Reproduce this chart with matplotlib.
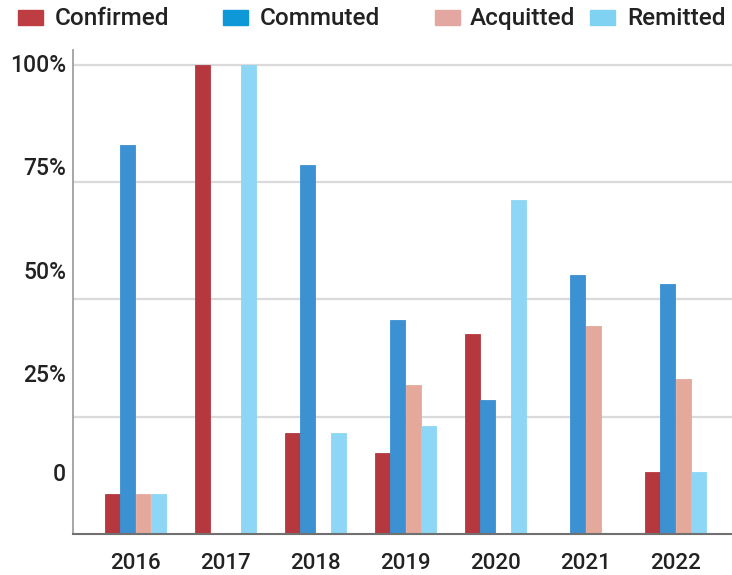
import matplotlib
matplotlib.use("Agg")
import matplotlib.pyplot as plt
from matplotlib.patches import Rectangle
import numpy as np

plt.rcParams['font.family'] = ['Roboto', 'DejaVu Sans']

years = ['2016', '2017', '2018', '2019', '2020', '2021', '2022']
series_names = ['Confirmed', 'Commuted', 'Acquitted', 'Remitted']
confirmed = [8.5, 100, 21.5, 17.3, 42.7, 0, 13.2]
commuted = [82.9, 0, 78.5, 45.6, 28.5, 55.2, 53.2]
acquitted = [8.5, 0, 0, 31.7, 0, 44.3, 33.0]
remitted = [8.5, 100, 21.5, 22.9, 71.1, 0, 13.2]

grid_values = [25, 50, 75, 100]
ytick_labels = ['100%', '75%', '50%', '25%', '0']
ytick_label_pos = [100.3, 78.4, 56.2, 34.3, 13.2]

bar_colors = ['#b5383e', '#3b91d1', '#e4a99b', '#8dd6f5']
legend_colors = ['#bd3d43', '#0f98d8', '#e3a6a0', '#80d2f3']

W, H = 732, 575
fig = plt.figure(figsize=(W / 100, H / 100), dpi=100)
ax = fig.add_axes([73 / W, (H - 534) / H, (W - 73) / W, (534 - 50) / H])

x = np.arange(len(years))
pitch = 0.172
width = 0.162
data = [confirmed, commuted, acquitted, remitted]
for i, (vals, col) in enumerate(zip(data, bar_colors)):
    ax.bar(x + (i - 1.5) * pitch, vals, width, color=col, edgecolor=col,
           linewidth=0.6, zorder=3)

for g in grid_values:
    ax.axhline(g, color='#dadada', lw=1.6, zorder=1)

ax.set_xlim(-0.694, 6.628)
ax.set_ylim(0, 103.1)
ax.set_xticks(x)
ax.set_xticklabels(years, fontsize=16, color='#222222', fontweight='medium')
ax.set_yticks(ytick_label_pos)
ax.set_yticklabels(ytick_labels, fontsize=16.5, color='#222222', fontweight='medium')
ax.tick_params(axis='x', length=0, pad=14)
ax.tick_params(axis='y', length=0, pad=5)

for s in ['top', 'right']:
    ax.spines[s].set_visible(False)
ax.spines['left'].set_color('#a0a0a0')
ax.spines['left'].set_linewidth(1.3)
ax.spines['bottom'].set_color('#707070')
ax.spines['bottom'].set_linewidth(1.5)
ax.spines['bottom'].set_zorder(4)

# legend (manual placement to match reference spacing)
sq_x = [18, 223, 435, 590]
txt_x = [55, 260, 470, 627]
for name, col, sx, tx in zip(series_names, legend_colors, sq_x, txt_x):
    fig.patches.append(Rectangle((sx / W, (H - 25) / H), 25 / W, 15 / H,
                                 transform=fig.transFigure, color=col))
    fig.text(tx / W, (H - 18.5) / H, name, fontsize=17.5, color='#222222',
             va='center', ha='left', fontweight='medium')

fig.savefig('out.png', dpi=100)
